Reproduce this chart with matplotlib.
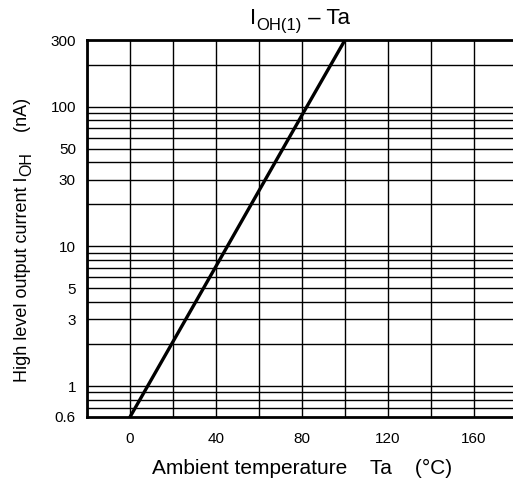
#-----------------------------------------------
# IOH(1) vs ambient temperature (log scale)
#-----------------------------------------------
import numpy as np
import matplotlib.pyplot as plt
from matplotlib.transforms import IdentityTransform

plt.rcParams['font.family'] = ['Liberation Sans', 'DejaVu Sans']

#-----------------------------------------------
# data
#-----------------------------------------------
temp = [0, 40, 80, 100]                  # Ta (degC)
ioh = [0.6, 7.2, 87, 300]                # IOH (nA)

x_ticks = [0, 40, 80, 120, 160]
x_grid = [-20, 0, 20, 40, 60, 80, 100, 120, 140, 160, 180]
y_ticks = [0.6, 1, 3, 5, 10, 30, 50, 100, 300]
y_tick_labels = ["0.6", "1", "3", "5", "10", "30", "50", "100", "300"]
y_grid = [0.7, 0.8, 0.9, 1, 2, 3, 4, 5, 6, 7, 8, 9, 10, 20, 30, 40, 50,
          60, 70, 80, 90, 100, 200]

#-----------------------------------------------
# figure
#-----------------------------------------------
fig = plt.figure(figsize=(5.13, 4.88), dpi=100)
ax = fig.add_axes([87 / 513, 71 / 488, 430 / 513, 377 / 488])

ax.set_yscale('log')
ax.set_xlim(-20, 180)
ax.set_ylim(0.6, 300)

for g in y_grid:
    ax.axhline(g, color='black', linewidth=1.0, zorder=1)
for g in x_grid:
    ax.axvline(g, color='black', linewidth=1.0, zorder=1)

ax.plot(temp, ioh, color='black', linewidth=2.4, zorder=3)

ax.set_xticks(x_ticks)
ax.set_yticks(y_ticks)
ax.set_yticklabels(y_tick_labels)
ax.minorticks_off()
ax.tick_params(length=0, labelsize=11, pad=8)
ax.tick_params(axis='x', pad=11)

for s in ['left', 'bottom', 'top']:
    ax.spines[s].set_linewidth(2.0)
ax.spines['right'].set_visible(False)

ax.set_xlabel("Ambient temperature    Ta    (°C)", fontsize=15, labelpad=9)


#-----------------------------------------------
# text with real-size subscripts, placed piece by piece (pixels)
#-----------------------------------------------
def seq_text(parts, cx, base, vertical=False):
    renderer = fig.canvas.get_renderer()
    widths = []
    for s, size, drop in parts:
        t = fig.text(0, 0, s, fontsize=size)
        widths.append(t.get_window_extent(renderer).width)
        t.remove()
    pos = cx - sum(widths) / 2
    for (s, size, drop), w in zip(parts, widths):
        if vertical:
            fig.text(base + drop, pos, s, fontsize=size, rotation=90,
                     rotation_mode='anchor', ha='left', va='baseline',
                     transform=IdentityTransform())
        else:
            fig.text(pos, base - drop, s, fontsize=size,
                     ha='left', va='baseline', transform=IdentityTransform())
        pos += w


seq_text([("I", 16, 0), ("OH(1)", 12, 6), (" – Ta", 16, 0)],
         cx=300, base=488 - 24)
seq_text([("High level output current I", 13, 0), ("OH", 11.5, 4),
          ("    (nA)", 13, 0)],
         cx=488 - 240, base=27, vertical=True)

fig.savefig("out.png", dpi=100)
